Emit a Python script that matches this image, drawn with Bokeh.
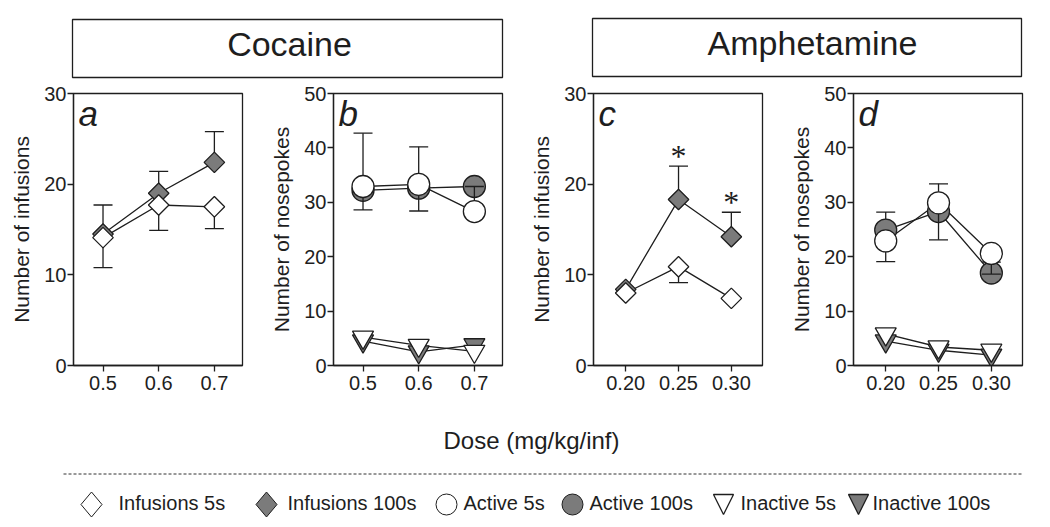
import numpy as np
from bokeh.plotting import figure
from bokeh.models import Range1d, FixedTicker, NumeralTickFormatter
from bokeh.layouts import column, row
from bokeh.embed import file_html
from bokeh.resources import INLINE
from bokeh.core.properties import value

# ----------------------------- data -----------------------------
cocaine_doses = [0.5, 0.6, 0.7]
amphetamine_doses = [0.20, 0.25, 0.30]

# panel a : cocaine, infusions
coc_inf_5s = [14.1, 17.7, 17.5]
coc_inf_5s_sem_up = [0.0, 0.0, 0.0]
coc_inf_5s_sem_down = [3.3, 2.8, 2.4]
coc_inf_100s = [14.5, 19.0, 22.4]
coc_inf_100s_sem_up = [3.2, 2.4, 3.4]
coc_inf_100s_sem_down = [0.0, 0.0, 0.0]

# panel b : cocaine, nosepokes
coc_act_5s = [32.9, 33.3, 28.3]
coc_act_5s_sem_up = [0.0, 0.0, 4.6]
coc_act_5s_sem_down = [4.3, 4.9, 0.0]
coc_act_100s = [32.2, 32.6, 32.9]
coc_act_100s_sem_up = [10.5, 7.6, 0.0]
coc_act_100s_sem_down = [0.0, 0.0, 0.0]
coc_inact_5s = [5.2, 3.7, 2.6]
coc_inact_100s = [4.5, 2.5, 3.8]

# panel c : amphetamine, infusions
amph_inf_5s = [8.0, 10.9, 7.4]
amph_inf_5s_sem_up = [0.0, 0.0, 0.0]
amph_inf_5s_sem_down = [0.0, 1.75, 0.0]
amph_inf_100s = [8.4, 18.3, 14.2]
amph_inf_100s_sem_up = [0.0, 3.7, 2.7]
amph_inf_100s_sem_down = [0.0, 0.0, 0.0]
amph_inf_100s_significant = [False, True, True]

# panel d : amphetamine, nosepokes
amph_act_5s = [22.9, 29.9, 20.6]
amph_act_5s_sem_up = [0.0, 0.0, 0.0]
amph_act_5s_sem_down = [3.8, 6.8, 3.8]
amph_act_100s = [24.9, 28.3, 17.0]
amph_act_100s_sem_up = [3.3, 5.1, 2.0]
amph_act_100s_sem_down = [0.0, 0.0, 0.0]
amph_inact_5s = [5.8, 3.4, 2.8]
amph_inact_100s = [4.5, 2.8, 1.9]

y_ticks_infusions = [0, 10, 20, 30]
y_ticks_nosepokes = [0, 10, 20, 30, 40, 50]
drug_titles = ["Cocaine", "Amphetamine"]
panel_letters = ["a", "b", "c", "d"]
y_label_infusions = "Number of infusions"
y_label_nosepokes = "Number of nosepokes"
x_label = "Dose (mg/kg/inf)"
significance_mark = "*"
legend_labels = ["Infusions  5s", "Infusions 100s", "Active 5s",
                 "Active 100s", "Inactive 5s", "Inactive 100s"]
legend_kinds = ["diamond", "diamond", "circle", "circle", "triangle", "triangle"]

# ----------------------------- style / layout -----------------------------
INK = "#1e1e1e"
GRAY = "#7b7b7b"
WHITE = "#ffffff"
LW = 1.3
CAP = 19
FONT = "Liberation Sans"
legend_fills = [WHITE, GRAY, WHITE, GRAY, WHITE, GRAY]

PAGE_W = 1048
HEADER_H = 83
FOOTER_H = 120
FRAME_W, FRAME_H = 169, 272
B_LEFT, B_RIGHT, B_TOP, B_BOTTOM = 73, 18, 10, 40

MARKER_SIZE = {"diamond": 14.5, "circle": 22, "triangle": 21}


def add_line(p, x, y):
    p.line(x, y, line_color=INK, line_width=LW)


def add_errors(p, x, y, up, down):
    xs, y0, y1 = [], [], []
    for xi, yi, u, d in zip(x, y, up, down):
        for e in (u, -d):
            if e != 0:
                xs.append(xi)
                y0.append(yi)
                y1.append(yi + e)
    if xs:
        p.segment(x0=xs, y0=y0, x1=xs, y1=y1, line_color=INK, line_width=LW)
        p.scatter(x=xs, y=y1, marker="dash", size=CAP, line_color=INK, line_width=LW)


def add_markers(p, x, y, kind, fill):
    kw = dict(fill_color=fill, line_color=INK, line_width=LW, size=MARKER_SIZE[kind])
    if kind == "diamond":
        p.scatter(x, y, marker="square", angle=np.pi / 4, **kw)
    elif kind == "circle":
        p.scatter(x, y, marker="circle", **kw)
    else:
        p.scatter(x, y, marker="inverted_triangle", **kw)


def make_panel(x_range, y_range, y_ticks, x_ticks, x_fmt, y_label, letter):
    p = figure(width=B_LEFT + FRAME_W + B_RIGHT, height=B_TOP + FRAME_H + B_BOTTOM,
               x_range=Range1d(*x_range), y_range=Range1d(*y_range),
               min_border_left=B_LEFT, min_border_right=B_RIGHT,
               min_border_top=B_TOP, min_border_bottom=B_BOTTOM,
               output_backend="svg", toolbar_location=None)
    p.grid.visible = False
    p.outline_line_color = INK
    p.outline_line_width = LW
    p.yaxis.ticker = FixedTicker(ticks=y_ticks)
    p.xaxis.ticker = FixedTicker(ticks=x_ticks)
    p.xaxis.formatter = NumeralTickFormatter(format=x_fmt)
    for ax in p.axis:
        ax.major_tick_out = 6
        ax.major_tick_in = 0
        ax.minor_tick_out = 0
        ax.minor_tick_in = 0
        ax.axis_line_color = INK
        ax.axis_line_width = LW
        ax.major_tick_line_color = INK
        ax.major_tick_line_width = LW
        ax.major_label_text_font = FONT
        ax.major_label_text_font_size = "20px"
        ax.major_label_text_color = INK
    p.xaxis.major_label_standoff = 4
    p.yaxis.major_label_standoff = 1
    p.yaxis.axis_label = y_label
    p.yaxis.axis_label_text_font = FONT
    p.yaxis.axis_label_text_font_size = "21px"
    p.yaxis.axis_label_text_font_style = "normal"
    p.yaxis.axis_label_text_color = INK
    p.yaxis.axis_label_standoff = 8
    # panel letter: 5 px right of the frame's left edge, centred 20 px below the top
    dx = (x_range[1] - x_range[0]) / FRAME_W
    dy = (y_range[1] - y_range[0]) / FRAME_H
    p.text(x=[x_range[0] + 5 * dx], y=[y_range[1] - 20 * dy], text=[letter],
           text_font=value(FONT), text_font_style="italic", text_font_size="35px",
           text_baseline="middle", text_align="left", text_color=INK)
    return p, dx, dy


X_COC = (0.447, 0.7505)
X_AMP = (0.1695, 0.3295)

# ---- panel a
pa, _, _ = make_panel(X_COC, (0, 30), y_ticks_infusions, cocaine_doses, "0.0",
                      y_label_infusions, panel_letters[0])
add_line(pa, cocaine_doses, coc_inf_100s)
add_line(pa, cocaine_doses, coc_inf_5s)
add_errors(pa, cocaine_doses, coc_inf_100s, coc_inf_100s_sem_up, coc_inf_100s_sem_down)
add_markers(pa, cocaine_doses, coc_inf_100s, "diamond", GRAY)
add_errors(pa, cocaine_doses, coc_inf_5s, coc_inf_5s_sem_up, coc_inf_5s_sem_down)
add_markers(pa, cocaine_doses, coc_inf_5s, "diamond", WHITE)

# ---- panel b
pb, _, _ = make_panel(X_COC, (0, 50), y_ticks_nosepokes, cocaine_doses, "0.0",
                      y_label_nosepokes, panel_letters[1])
for s in (coc_act_100s, coc_act_5s, coc_inact_100s, coc_inact_5s):
    add_line(pb, cocaine_doses, s)
add_errors(pb, cocaine_doses, coc_act_100s, coc_act_100s_sem_up, coc_act_100s_sem_down)
add_markers(pb, cocaine_doses, coc_act_100s, "circle", GRAY)
add_markers(pb, cocaine_doses, coc_inact_100s, "triangle", GRAY)
add_errors(pb, cocaine_doses, coc_act_5s, coc_act_5s_sem_up, coc_act_5s_sem_down)
add_markers(pb, cocaine_doses, coc_act_5s, "circle", WHITE)
add_markers(pb, cocaine_doses, coc_inact_5s, "triangle", WHITE)

# ---- panel c
pc, _, dyc = make_panel(X_AMP, (0, 30), y_ticks_infusions, amphetamine_doses, "0.00",
                        y_label_infusions, panel_letters[2])
add_line(pc, amphetamine_doses, amph_inf_100s)
add_line(pc, amphetamine_doses, amph_inf_5s)
add_errors(pc, amphetamine_doses, amph_inf_100s, amph_inf_100s_sem_up, amph_inf_100s_sem_down)
add_markers(pc, amphetamine_doses, amph_inf_100s, "diamond", GRAY)
add_errors(pc, amphetamine_doses, amph_inf_5s, amph_inf_5s_sem_up, amph_inf_5s_sem_down)
add_markers(pc, amphetamine_doses, amph_inf_5s, "diamond", WHITE)
sig_x = [d for d, s in zip(amphetamine_doses, amph_inf_100s_significant) if s]
sig_y = [m + e + 10 * dyc for m, e, s in zip(amph_inf_100s, amph_inf_100s_sem_up,
                                             amph_inf_100s_significant) if s]
pc.text(x=sig_x, y=sig_y, text=[significance_mark] * len(sig_x),
        text_font=value("Liberation Serif"), text_font_size="32px", text_align="center",
        text_baseline="middle", text_color=INK)

# ---- panel d
pd_, _, _ = make_panel(X_AMP, (0, 50), y_ticks_nosepokes, amphetamine_doses, "0.00",
                       y_label_nosepokes, panel_letters[3])
for s in (amph_act_100s, amph_act_5s, amph_inact_100s, amph_inact_5s):
    add_line(pd_, amphetamine_doses, s)
add_errors(pd_, amphetamine_doses, amph_act_100s, amph_act_100s_sem_up, amph_act_100s_sem_down)
add_markers(pd_, amphetamine_doses, amph_act_100s, "circle", GRAY)
add_markers(pd_, amphetamine_doses, amph_inact_100s, "triangle", GRAY)
add_errors(pd_, amphetamine_doses, amph_act_5s, amph_act_5s_sem_up, amph_act_5s_sem_down)
add_markers(pd_, amphetamine_doses, amph_act_5s, "circle", WHITE)
add_markers(pd_, amphetamine_doses, amph_inact_5s, "triangle", WHITE)

# ---- header: drug title boxes (page-pixel coordinates)
header = figure(width=PAGE_W, height=HEADER_H, x_range=Range1d(0, PAGE_W),
                y_range=Range1d(HEADER_H, 0), x_axis_type=None, y_axis_type=None,
                min_border=0, outline_line_color=None, toolbar_location=None,
                output_backend="svg")
title_box_left = [72, 592]
title_box_right = [502, 1021]
title_box_top = [19, 18]
title_box_bottom = [77, 76]
title_text_x = [289, 812]
title_text_mid = [43, 42.5]
header.quad(left=title_box_left, right=title_box_right, top=title_box_top,
            bottom=title_box_bottom, fill_color=WHITE, line_color=INK, line_width=LW)
header.text(x=title_text_x, y=title_text_mid, text=drug_titles, text_font=value(FONT),
            text_font_size="34px", text_align="center", text_baseline="middle",
            text_color=INK)

# ---- footer: x label, dashed rule, legend (page-pixel coordinates)
FOOT_TOP = HEADER_H + B_TOP + FRAME_H + B_BOTTOM
footer = figure(width=PAGE_W, height=FOOTER_H, x_range=Range1d(0, PAGE_W),
                y_range=Range1d(FOOT_TOP + FOOTER_H, FOOT_TOP), x_axis_type=None,
                y_axis_type=None, min_border=0, outline_line_color=None,
                toolbar_location=None, output_backend="svg")
footer.text(x=[531], y=[440], text=[x_label], text_font=value(FONT), text_font_size="24px",
            text_align="center", text_baseline="middle", text_color=INK)
footer.segment(x0=[63], y0=[473.5], x1=[1022], y1=[473.5], line_color="#333333",
               line_width=1, line_dash="3 2")

legend_marker_x = [91, 266, 446, 572, 723, 858]
legend_text_x = [118, 287, 463, 589, 740, 872]
LEG_Y = 504
LEG_TEXT_MID = 502
for kind, fill, mx in zip(legend_kinds, legend_fills, legend_marker_x):
    if kind == "diamond":
        hw, hh = 10.5, 12.5
        footer.patch([mx - hw, mx, mx + hw, mx], [LEG_Y, LEG_Y - hh, LEG_Y, LEG_Y + hh],
                     fill_color=fill, line_color=INK, line_width=1)
    elif kind == "circle":
        footer.scatter([mx], [LEG_Y], marker="circle", size=21, fill_color=fill,
                       line_color=INK, line_width=1)
    else:
        hw, hh = 10, 10
        footer.patch([mx - hw, mx + hw, mx], [LEG_Y - hh, LEG_Y - hh, LEG_Y + hh],
                     fill_color=fill, line_color=INK, line_width=1.3)
footer.text(x=legend_text_x, y=[LEG_TEXT_MID] * len(legend_labels), text=legend_labels,
            text_font=value(FONT), text_font_size="20px", text_align="left",
            text_baseline="middle", text_color=INK)

layout = column(header, row(pa, pb, pc, pd_), footer)
open("out.html", "w").write(file_html(layout, INLINE))
